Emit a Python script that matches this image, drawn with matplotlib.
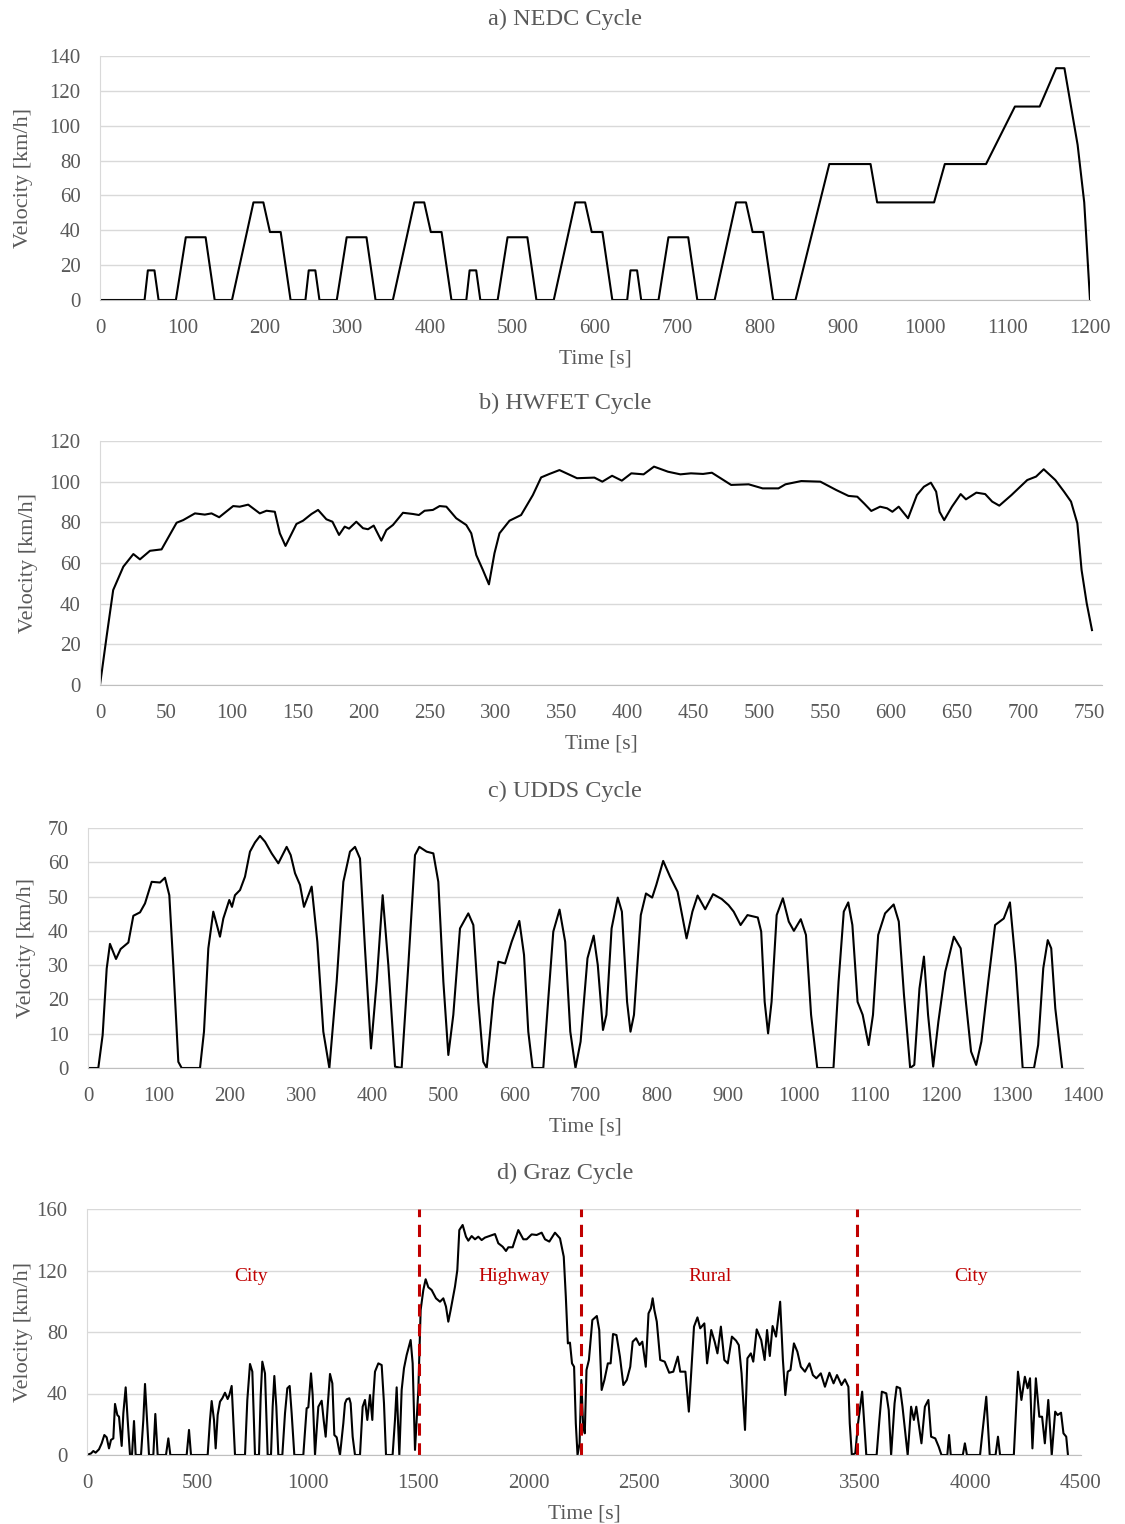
import matplotlib
matplotlib.use("Agg")
import matplotlib.pyplot as plt

plt.rcParams['font.family'] = ['Liberation Serif', 'DejaVu Serif']

# a) NEDC breakpoints (time s, speed km/h)
nedc_t = [0, 54, 58, 66, 71, 92, 104, 128, 139, 160, 186, 198, 206, 219, 231,
          249, 253, 261, 266, 287, 299, 323, 334, 355, 381, 393, 401, 414, 426,
          444, 448, 456, 461, 482, 494, 518, 529, 550, 576, 588, 596, 609, 621,
          639, 643, 651, 656, 677, 689, 713, 724, 745, 771, 783, 791, 804, 816,
          843, 884, 934, 942, 1011, 1024, 1074, 1109, 1139, 1159, 1169, 1185, 1193, 1200]
nedc_v = [0, 0, 17, 17, 0, 0, 36, 36, 0, 0, 56, 56, 39, 39, 0,
          0, 17, 17, 0, 0, 36, 36, 0, 0, 56, 56, 39, 39, 0,
          0, 17, 17, 0, 0, 36, 36, 0, 0, 56, 56, 39, 39, 0,
          0, 17, 17, 0, 0, 36, 36, 0, 0, 56, 56, 39, 39, 0,
          0, 78, 78, 56, 56, 78, 78, 111, 111, 133, 133, 89, 56, 0]

# b) HWFET
hwfet_t = [0, 5, 10, 17.7, 25.3, 30.3, 37.9, 46.7, 58.1, 63.1, 72, 79.5, 84.6, 90.4, 101, 106,
           112.4, 121.2, 126.3, 132.6, 136.4, 140.7, 149, 154, 160.4, 165.4, 171.7, 176.3, 181.3,
           185.6, 188.9, 194.4, 199.5, 203.3, 207.6, 213.4, 217.2, 222.2, 229.8, 237.4, 241.9,
           246.2, 252.5, 257.6, 262.7, 270.2, 277.8, 281.6, 285.4, 290.4, 295, 299.2, 303, 310.6,
           319.4, 328.3, 334.6, 340.9, 348.5, 361.8, 375, 381, 388.4, 395.8, 403, 412.3, 420.2,
           430.8, 440.2, 448.2, 457.4, 464.1, 470.7, 478.7, 492, 502.6, 514.6, 519.9, 531.9,
           546.4, 558.4, 567.7, 574.4, 579.7, 585, 591.7, 597, 601, 605.8, 612.9, 619.6, 624.9,
           630.2, 634.2, 636.8, 640.3, 646.2, 652.8, 656.8, 664.7, 671.4, 676.7, 682.1, 691.3,
           703.3, 710, 715.8, 724.6, 731.2, 736.5, 741.3, 744.5, 748.4, 752.4]
hwfet_v = [0, 23.8, 46.7, 58.2, 64.4, 61.8, 66, 66.7, 79.8, 81.1, 84.4, 83.8, 84.4, 82.5, 88, 87.7,
           88.7, 84.4, 85.7, 85.2, 74.6, 68.4, 79.2, 80.8, 84.1, 86.1, 81.5, 80.3, 73.8,
           77.9, 76.9, 80.3, 77.1, 76.6, 78.4, 71, 76.2, 78.7, 84.7, 84.1, 83.6,
           85.7, 86.1, 88, 87.7, 82, 78.7, 74.6, 63.9, 56.6, 49.5, 64.8, 74.6, 80.8,
           83.6, 93.4, 102.1, 103.8, 105.7, 101.7, 102, 100, 102.9, 100.5, 104.1, 103.6, 107.4,
           104.9, 103.6, 104.1, 103.8, 104.4, 101.7, 98.4, 98.7, 96.7, 96.7, 98.7, 100.3,
           100, 95.9, 93, 92.6, 89.2, 85.6, 87.7, 86.9, 85.2, 87.7, 82, 93.4, 97.5,
           99.5, 95.1, 85.2, 81.1, 87.7, 93.9, 91.3, 94.6, 93.9, 90.2, 88.2, 93.4,
           100.8, 102.5, 106.1, 100.8, 95.1, 90.2, 79.5, 56.6, 40.2, 27]

# c) UDDS
udds_t = [0, 14.5, 20.6, 26.3, 30.9, 39.4, 45.9, 56.8, 63.8, 73.2, 80.2, 89.6, 101.3, 108.3,
          114.4, 120, 127.1, 131.8, 157.6, 163.2, 169.3, 176.3, 185.7, 190.4, 198.8, 202.6,
          206.8, 213.9, 220.9, 227.9, 235, 242, 249.1, 258.4, 267.8, 279.5, 285.2, 291.3,
          298.3, 303.9, 314.7, 322.7, 331.1, 339.6, 349.9, 359.3, 368.6, 375.7, 382.7, 389.7,
          398.2, 406.2, 414.6, 422.6, 432, 441.3, 450.7, 460.1, 466.2, 476.5, 485.9, 492.9,
          500, 507, 514, 523.4, 535.1, 542.2, 549.2, 556.2, 561, 570.3, 577.4, 586.8, 596.1,
          606.9, 613.5, 619.5, 625.6, 640.6, 647.7, 654.7, 663.5, 671.4, 678.6, 685.9, 693.1,
          702.8, 711.5, 717.3, 724.6, 729.4, 736.7, 745.4, 751.2, 758.5, 763.3, 768.2, 777.8,
          785.1, 793.8, 799.6, 809.3, 819, 829.6, 835.9, 842.2, 850.4, 857.7, 868.4, 879.5,
          891.6, 901.3, 908.5, 918.2, 927.9, 942.4, 947.2, 952.1, 956.9, 961.8, 969, 977.7,
          986, 993.2, 1002.9, 1010.2, 1017.4, 1026.1, 1048.9, 1056.1, 1063.4, 1069.7, 1075.5,
          1082.8, 1090, 1098.3, 1104.5, 1111.8, 1121.5, 1133.6, 1140.8, 1148.1, 1156.8, 1162.6,
          1169.9, 1176.2, 1182, 1189.2, 1196.5, 1206.2, 1218.3, 1227.9, 1235.2, 1242.5, 1249.7,
          1257, 1266.7, 1276.3, 1288.5, 1297.2, 1305.4, 1315.1, 1331.1, 1336.9, 1344.1, 1350.4,
          1355.3, 1361, 1370.7]
udds_v = [0, 0, 9.6, 29, 36.2, 31.8, 34.7, 36.6, 44.4, 45.4, 48, 54.3, 54.1, 55.5,
          50.4, 30, 1.8, 0, 0, 10.6, 34.9, 45.6, 38.3, 43.6, 49, 47,
          50.4, 51.9, 55.8, 63.1, 65.8, 67.7, 66, 62.6, 59.7, 64.5, 62.1, 56.8,
          53.4, 47, 52.9, 36.8, 10.6, 0, 25.2, 54.3, 63.1, 64.5, 61.1, 34.9,
          5.7, 25.2, 50.4, 30, 0.4, 0, 30, 62.1, 64.5, 63.1, 62.6, 54.3,
          25.2, 3.8, 15.5, 40.7, 45.1, 41.7, 19.3, 1.8, 0, 20.3, 31, 30.5, 36.8,
          42.9, 33, 10.6, 0, 0, 20.3, 39.8, 46.2, 36.8, 10.6, 0, 7.7,
          32, 38.6, 30, 11.1, 15.5, 40.7, 49.7, 45.6, 19.3, 10.6, 15.5, 44.6,
          50.9, 49.7, 53.4, 60.4, 55.8, 51.4, 44.6, 37.8, 45.6, 50.3, 46.3, 50.7,
          49.3, 47.5, 45.6, 41.7, 44.6, 43.9, 39.8, 19.3, 10.1, 19.3, 44.6, 49.5,
          42.7, 40, 43.4, 38.8, 15.5, 0, 0, 25.2, 45.6, 48.3, 41.7,
          19.3, 15.5, 6.7, 15.5, 38.8, 45.1, 47.7, 42.7, 21.3, 0, 0.9,
          23.2, 32.5, 15.5, 0.4, 13.5, 28.1, 38.3, 34.9, 19.3, 4.8, 0.9,
          7.7, 25.2, 41.7, 43.6, 48.3, 30, 0, 0, 6.7, 29.1, 37.3,
          34.9, 17.4, 0]

# d) Graz
graz_t = [0, 18, 28.7, 39, 54.3, 66.4, 78.5, 89, 99.6, 108.6, 119.2, 126.8, 137.3, 144.9, 157,
          164.5, 175.1, 184.1, 194.7, 203.7, 212.8, 220.3, 244.5, 255, 262.6, 271.6, 280.7,
          300.3, 309.3, 319.9, 357.6, 368.2, 377.3, 451.2, 461.8, 470.8, 546.3, 556.8, 564.4,
          574.9, 582.5, 591.5, 602.1, 612.6, 624.7, 636.8, 644.3, 654.9, 662.4, 670, 715.3,
          725.8, 737.9, 748.5, 760.5, 778.7, 786.2, 793.7, 805.8, 817.9, 833, 840.5, 848.1,
          857.1, 866.2, 884.3, 896.4, 906.9, 917.5, 926.5, 938.6, 979.3, 994.4, 1002, 1014.1,
          1021.6, 1032.2, 1039.7, 1047.3, 1062.4, 1071.4, 1080.5, 1089.5, 1100.1, 1110.7,
          1119.7, 1130.3, 1145.3, 1160.4, 1168, 1175.5, 1187.6, 1193.6, 1202.7, 1213.2, 1235.9,
          1247.9, 1258.5, 1269, 1281.1, 1291.7, 1296.2, 1303.8, 1318.9, 1334, 1344.5, 1353.6,
          1383.5, 1394.3, 1401.9, 1414, 1424.5, 1435, 1447.1, 1465.2, 1474.3, 1484.9, 1500,
          1510.5, 1522.6, 1533.1, 1545.2, 1560.3, 1579.9, 1598, 1613.1, 1625.2, 1635.7, 1646.3,
          1665.9, 1676.5, 1685.5, 1700.6, 1715.7, 1726.3, 1741.4, 1756.5, 1771.5, 1786.6,
          1801.7, 1821.3, 1847, 1862.1, 1881.7, 1896.8, 1907.4, 1927, 1937.5, 1952.6, 1975.3,
          1990.4, 2013, 2035.6, 2058.3, 2073.4, 2093, 2118.6, 2141.3, 2158.3, 2167.7, 2177,
          2186.4, 2195.7, 2205.1, 2212.9, 2220.7, 2230, 2237.9, 2245.7, 2253.5, 2261.3, 2272.2,
          2287.8, 2308.1, 2319, 2329.9, 2342.4, 2358, 2370.5, 2381.4, 2397, 2412.6, 2428.2,
          2443.8, 2459.4, 2470.3, 2485.9, 2501.5, 2514, 2529.6, 2542.1, 2553, 2560.8, 2568.6,
          2579.5, 2595.1, 2615.4, 2635.7, 2654.4, 2674.7, 2685.6, 2709, 2724.6, 2737.1, 2748,
          2763.6, 2776.1, 2794.8, 2807.3, 2826, 2841.6, 2854.1, 2869.7, 2885.3, 2900.9, 2919.6,
          2938.3, 2950.8, 2963.3, 2978.9, 2989.8, 3005.4, 3016.3, 3031.9, 3052.2, 3067.8,
          3078.7, 3091.2, 3103.7, 3119.3, 3138, 3150.5, 3161.4, 3172.3, 3184.8, 3200.4, 3216,
          3231.6, 3250.3, 3270.6, 3286.2, 3301.8, 3322.1, 3340.8, 3361.1, 3379.8, 3395.4,
          3415.7, 3431.3, 3446.9, 3453.1, 3462.5, 3478.1, 3490.6, 3509.3, 3528, 3574.8, 3587.3,
          3598.3, 3618.5, 3629.5, 3640.4, 3656, 3665.4, 3681, 3691.9, 3715.3, 3730.9, 3743.4,
          3754.3, 3777.7, 3793.3, 3809, 3821.5, 3840.2, 3855.8, 3868.3, 3894.8, 3902.6, 3910.4,
          3965, 3974.3, 3983.7, 4043, 4050.8, 4071.1, 4086.7, 4113.2, 4124.1, 4133.5, 4195.9,
          4214.6, 4230.2, 4245.8, 4258.3, 4269.2, 4280.1, 4295.7, 4311.3, 4323.8, 4336.3,
          4351.9, 4367.5, 4383.1, 4394, 4409.6, 4420.6, 4433.1, 4440.9]
graz_v = [0, 1, 2.6, 1.5, 3.7, 7.6, 13, 11.5, 4.3, 9.8, 10.8, 33.2, 26, 24.9, 5.9,
          27.1, 44, 22.8, 0, 0, 22.1, 0, 0, 22.8, 46.2, 22.8, 0,
          0, 26.7, 0, 0, 10.8, 0, 0, 16.3, 0, 0, 22.8, 35.1,
          22.8, 4.3, 26, 34.7, 36.9, 40.5, 36.4, 39, 44.9, 22.8, 0, 0,
          35.8, 59.2, 54.2, 0, 0, 37.9, 60.7, 53.1, 0, 0, 31.4, 51.4,
          31.4, 0, 0, 27.1, 43.4, 44.9, 27.1, 0, 0, 30.4, 31, 53.1,
          39, 0, 16.3, 31.4, 35.3, 22.8, 11.9, 31.4, 52.7, 46.6,
          13, 11.5, 0, 20.6, 33.6, 36.2, 36.9, 33.6, 11.9, 0, 0,
          31.4, 35.8, 22.8, 39, 22.8, 37.9, 54.2, 59.6, 58.5, 33.6, 0,
          0, 22.8, 44, 0, 42.3, 56.4, 65, 74.8, 59.6, 3.3, 42.3,
          94.3, 107.3, 114.3, 109.1, 107.3, 101.9, 99.7, 101.9, 96.5, 86.7, 94.3,
          109.5, 120.3, 146.3, 149.6, 142, 139.4, 142.4, 140.3, 142, 139.8,
          141.4, 142.4, 143.7, 137.7, 135.5, 132.7, 135.1, 135.1, 139.8, 146.3, 140.3,
          140.3, 143.5, 143.1, 144.6, 140.3, 138.8, 144.6, 140.9, 129, 103, 72.6,
          73.1, 59.6, 57.4, 20.6, 0, 7.6, 48.8, 20.6, 14.1, 55.3, 61.8,
          87.8, 90.4, 81.3, 42.3, 48.8, 59.6, 59.6, 78.7, 78, 64, 45.5,
          48.8, 57.4, 73.7, 75.9, 71.5, 73.7, 57.4, 92.1, 95.4, 101.9, 94.3,
          86.7, 61.8, 60.7, 53.5, 54.2, 64, 54.2, 54.2, 28.2, 57.4, 83.5,
          89.5, 82.4, 85.6, 59.6, 81.3, 73.7, 66.1, 83.5, 61.8, 59.6, 77,
          74.4, 71.5, 53.1, 16.3, 62.9, 66.1, 60.7, 81.7, 74.8, 61.8,
          81.3, 64.4, 83.9, 77, 99.7, 61.8, 39, 54.2, 55.3, 72.6, 67.2,
          57.4, 54.2, 59.6, 52, 49.9, 53.1, 44.4, 53.5, 46.6, 52,
          45.5, 49.2, 44.4, 20.6, 0, 1.1, 20.6, 41.2, 0, 0, 22.8,
          41.2, 40.1, 29.3, 0, 33.6, 44.4, 43.4, 31.4, 0, 31.4, 22.8,
          31.4, 7.6, 31.4, 35.8, 11.9, 10.8, 5.4, 0, 0, 13, 0,
          0, 7.6, 0, 0, 10.8, 37.9, 0, 0, 11.9, 0, 0,
          54.2, 35.8, 50.9, 43.4, 49.9, 4.3, 49.9, 24.9, 24.9, 7.6,
          35.8, 0, 28.2, 26, 27.5, 14.1, 11.9, 0]

graz_bounds = [1503, 2236, 3486]
graz_sections = ['City', 'Highway', 'Rural', 'City']
graz_label_t = [742, 1933, 2820, 4002]

TXT = '#595959'
GRID = '#d9d9d9'
RED = '#c00000'

fig = plt.figure(figsize=(11.25, 15.24), dpi=100)
W, H = 1125.0, 1524.0


def make_ax(x0, x1, ytop, ybot):
    return fig.add_axes([x0 / W, 1 - ybot / H, (x1 - x0) / W, (ybot - ytop) / H])


def style(ax, title, xlim, xticks, ylim, yticks, ylab_x, title_y):
    ax.set_xlim(*xlim)
    ax.set_ylim(*ylim)
    ax.set_xticks(xticks)
    ax.set_yticks(yticks)
    ax.grid(axis='y', color=GRID, lw=1)
    ax.set_axisbelow(True)
    for s in ['top', 'right']:
        ax.spines[s].set_visible(False)
    ax.spines['left'].set_color(GRID)
    ax.spines['bottom'].set_color('#bfbfbf')
    ax.tick_params(length=0, labelsize=15, colors=TXT)
    ax.tick_params(axis='y', pad=14)
    ax.tick_params(axis='x', pad=14)
    ax.set_xlabel('Time [s]', fontsize=15.5, color=TXT, labelpad=8)
    ax.set_ylabel('Velocity [km/h]', fontsize=16, color=TXT)
    ax.yaxis.set_label_coords(ylab_x, 0.5)
    fig.text(0.502, 1 - title_y / H, title, fontsize=17.5, color=TXT, ha='center', va='center')


ax1 = make_ax(100, 1090, 56, 300)
ax1.plot(nedc_t, nedc_v, color='black', lw=1.5)
style(ax1, 'a) NEDC Cycle', (0, 1200), range(0, 1201, 100), (0, 140), range(0, 141, 20),
      (33 - 100) / 990, 19)

ax2 = make_ax(100, 1102, 441, 685)
ax2.plot(hwfet_t, hwfet_v, color='black', lw=1.5)
style(ax2, 'b) HWFET Cycle', (0, 760), range(0, 751, 50), (0, 120), range(0, 121, 20),
      (38 - 100) / 1002, 403)

ax3 = make_ax(88, 1083, 828, 1068)
ax3.plot(udds_t, udds_v, color='black', lw=1.5)
style(ax3, 'c) UDDS Cycle', (0, 1400), range(0, 1401, 100), (0, 70), range(0, 71, 10),
      (36 - 88) / 995, 791)

ax4 = make_ax(87, 1081, 1209, 1455)
ax4.plot(graz_t, graz_v, color='black', lw=1.5)
for b in graz_bounds:
    ax4.axvline(b, color=RED, lw=2.2, ls=(0, (4, 2.5)))
for name, tx in zip(graz_sections, graz_label_t):
    ax4.text(tx, 116, name, color=RED, fontsize=14, ha='center', va='center')
style(ax4, 'd) Graz Cycle', (0, 4500), range(0, 4501, 500), (0, 160), range(0, 161, 40),
      (33 - 87) / 994, 1173)

fig.savefig('out.png', dpi=100)
